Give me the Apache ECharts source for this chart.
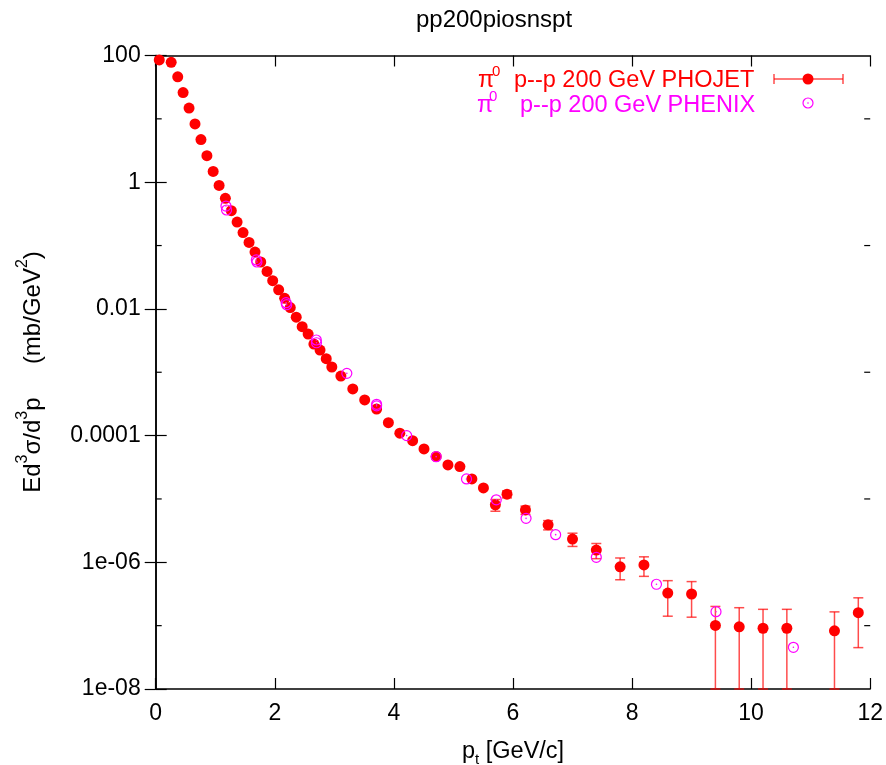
<!DOCTYPE html>
<html><head><meta charset="utf-8">
<script src="https://cdn.jsdelivr.net/npm/echarts@6/dist/echarts.min.js"></script>
<style>html,body{margin:0;padding:0;background:#fff}#c{width:886px;height:765px}</style>
</head><body><div id="c"></div>
<script>
// ---- data ----
const phojetPt = [0.06,0.26,0.37,0.46,0.56,0.66,0.76,0.86,0.965,1.065,
  1.17,1.27,1.367,1.467,1.568,1.668,1.764,1.87,1.965,2.065,
  2.166,2.26,2.36,2.46,2.56,2.657,2.76,2.864,2.958,3.11,
  3.31,3.51,3.71,3.908,4.10,4.315,4.506,4.71,4.908,5.109,
  5.31,5.504,5.705,5.90,6.21,6.59,7.0,7.4,7.8,8.2,
  8.6,9.0,9.4,9.8,10.2,10.6,11.4,11.8];
const phojetVal = [85,78,46,26,14.8,8.3,4.7,2.62,1.48,0.89,
  0.557,0.355,0.235,0.160,0.112,0.079,0.055,0.039,0.0279,0.020,
  0.0147,0.0105,0.0074,0.00525,0.0040,0.00279,0.00224,0.00164,0.00121,0.00087,
  0.000545,0.000365,0.000263,0.000160,0.000109,8.3e-5,6.15e-5,4.68e-5,3.44e-5,3.24e-5,
  2.07e-5,1.49e-5,8.1e-6,1.19e-5,6.7e-6,3.9e-6,2.33e-6,1.56e-6,8.5e-7,9.1e-7,
  3.27e-7,3.16e-7,1.01e-7,9.6e-8,9.1e-8,9.1e-8,8.3e-8,1.6e-7];
const phojetErr = [0,0,0,0,0,0,0,0,0,0,
  0,0,0,0,0,0,0,0,0,0,
  0,0,0,0,0,0,0,0,0,0,
  0,0,0,0,0,0,0,0,0,0,
  0,0,1.7e-6,1.5e-6,1.0e-6,6.5e-7,5.5e-7,4.2e-7,3.2e-7,3.1e-7,
  1.86e-7,1.8e-7,1.0e-7,9.6e-8,9.0e-8,9.0e-8,8.2e-8,1.15e-7];
const phenixPt = [1.18,1.19,1.69,1.70,2.19,2.20,2.697,2.70,3.21,3.71,3.71,4.215,4.71,5.22,5.72,6.22,6.717,7.40,8.41,9.41,10.71];
const phenixVal = [0.42,0.364,0.0592,0.055,0.01253,0.01164,0.00323,0.00292,0.00096,0.000312,0.000295,0.0001,4.65e-5,2.07e-5,9.7e-6,4.94e-6,2.73e-6,1.2e-6,4.5e-7,1.66e-7,4.55e-8];
const yTickLabels = {'2':'100','0':'1','-2':'0.01','-4':'0.0001','-6':'1e-06','-8':'1e-08'};
const yMinorTicks = [10, 0.1, 0.001, 1e-5, 1e-7];
const titleText = 'pp200piosnspt';
const legendPhojet = 'p--p 200 GeV PHOJET';
const legendPhenix = 'p--p 200 GeV PHENIX';

// ---- chart ----
const FONT = 'Liberation Sans, Arial, sans-serif';
const RED = '#ff0000', MAG = '#ff00ff', BAR = 'rgba(255,0,0,0.7)';
const chart = echarts.init(document.getElementById('c'), null, {renderer:'canvas'});

const phojetData = phojetPt.map((x,i)=>[x, phojetVal[i], phojetErr[i]]);
const phenixData = phenixPt.map((x,i)=>[x, phenixVal[i]]);

const axisLine = {show:true, lineStyle:{color:'#000', width:1.5}};
function xAx(pos, labels){
  return {type:'value', position:pos, min:0, max:12, interval:2,
    axisLine, splitLine:{show:false},
    axisTick:{show:true, inside:true, length:11, lineStyle:{color:'#000', width:1.2}},
    axisLabel:{show:labels, color:'#000', fontSize:23, fontFamily:FONT, margin:13}};
}
function yAx(pos, labels){
  return {type:'log', logBase:10, position:pos, min:1e-8, max:100, interval:2,
    axisLine, splitLine:{show:false},
    axisTick:{show:true, inside:true, length:11, lineStyle:{color:'#000', width:1.2}},
    axisLabel:{show:labels, color:'#000', fontSize:23, fontFamily:FONT, margin:15,
      formatter:v=>{const e=Math.round(Math.log10(v)); return yTickLabels[String(e)]||'';}}};
}

const option = {
  animation:false,
  backgroundColor:'#fff',
  grid:{left:155.7, right:13.6, top:55.5, bottom:76, containLabel:false},
  xAxis:[xAx('bottom',true), xAx('top',false)],
  yAxis:[yAx('left',true), yAx('right',false)],
  series:[
    // short ticks at odd decades on both y axes
    {type:'custom', xAxisIndex:0, yAxisIndex:0, data:yMinorTicks.map(v=>[0,v]), z:5, silent:true,
      renderItem:(params, api)=>{
        const cs = params.coordSys;
        const p = api.coord([0, api.value(1)]);
        const st = {stroke:'#000', lineWidth:1.2};
        return {type:'group', children:[
          {type:'line', shape:{x1:cs.x, y1:p[1], x2:cs.x+6, y2:p[1]}, style:st},
          {type:'line', shape:{x1:cs.x+cs.width, y1:p[1], x2:cs.x+cs.width-6, y2:p[1]}, style:st}
        ]};
      }},
    {type:'custom', xAxisIndex:0, yAxisIndex:0, data:phojetData, z:2,
      renderItem:(params, api)=>{
        const x=api.value(0), y=api.value(1), e=api.value(2);
        if(!e) return null;
        const hi = y+e, lo = Math.max(y-e, 1e-8);
        const p1 = api.coord([x,hi]), p2 = api.coord([x,lo]);
        const w = 5, st = {stroke:BAR, lineWidth:1.5};
        return {type:'group', children:[
          {type:'line', shape:{x1:p1[0],y1:p1[1],x2:p2[0],y2:p2[1]}, style:st},
          {type:'line', shape:{x1:p1[0]-w,y1:p1[1],x2:p1[0]+w,y2:p1[1]}, style:st},
          {type:'line', shape:{x1:p2[0]-w,y1:p2[1],x2:p2[0]+w,y2:p2[1]}, style:st}
        ]};
      }},
    {type:'scatter', xAxisIndex:0, yAxisIndex:0, data:phojetData.map(d=>[d[0],d[1]]), z:3,
      symbol:'circle', symbolSize:11, itemStyle:{color:RED, opacity:1}, clip:false},
    {type:'custom', xAxisIndex:0, yAxisIndex:0, data:phenixData, z:4,
      renderItem:(params, api)=>{
        const p = api.coord([api.value(0), api.value(1)]);
        return {type:'group', children:[
          {type:'circle', shape:{cx:p[0], cy:p[1], r:5}, style:{fill:'none', stroke:MAG, lineWidth:1.2}},
          {type:'circle', shape:{cx:p[0], cy:p[1], r:0.8}, style:{fill:MAG}}
        ]};
      }}
  ],
  graphic:[
    {type:'text', x:494, y:20, style:{text:titleText, fontSize:24, fontFamily:FONT, fill:'#000', align:'center', verticalAlign:'middle'}},
    // y label
    {type:'text', x:33, y:372, rotation:Math.PI/2,
      style:{text:'{n|Ed}{s|3}{n|σ/d}{s|3}{n|p     (mb/GeV}{s|2}{n|)}', align:'center', verticalAlign:'middle', fill:'#000',
        rich:{n:{fontSize:24, lineHeight:24, fontFamily:FONT, fill:'#000', verticalAlign:'bottom'},
              s:{fontSize:16, lineHeight:16, fontFamily:FONT, fill:'#000', verticalAlign:'bottom', padding:[0,0,14,0]}}}},
    // x label
    {type:'text', x:462, y:751, 
      style:{text:'{n|p}{b|t}{n| [GeV/c]}', align:'left', verticalAlign:'middle', fill:'#000',
        rich:{n:{fontSize:23.5, lineHeight:23.5, fontFamily:FONT, fill:'#000', verticalAlign:'top'},
              b:{fontSize:15, lineHeight:15, fontFamily:FONT, fill:'#000', verticalAlign:'top', padding:[13,0,0,0]}}}},
    // legend row 1
    {type:'text', x:478, y:80.7, style:{text:'π', fontSize:23.5, fontFamily:FONT, fill:RED, verticalAlign:'middle'}},
    {type:'text', x:492, y:72, style:{text:'0', fontSize:15, fontFamily:FONT, fill:RED, verticalAlign:'middle'}},
    {type:'text', x:514, y:80.7, style:{text:legendPhojet, fontSize:23.5, fontFamily:FONT, fill:RED, verticalAlign:'middle'}},
    {type:'line', shape:{x1:774,y1:79,x2:843,y2:79}, style:{stroke:BAR, lineWidth:1.5}},
    {type:'line', shape:{x1:774,y1:74,x2:774,y2:84}, style:{stroke:BAR, lineWidth:1.5}},
    {type:'line', shape:{x1:843,y1:74,x2:843,y2:84}, style:{stroke:BAR, lineWidth:1.5}},
    {type:'circle', shape:{cx:808, cy:79, r:5.5}, style:{fill:RED}},
    // legend row 2
    {type:'text', x:477, y:105.2, style:{text:'π', fontSize:23.5, fontFamily:FONT, fill:MAG, verticalAlign:'middle'}},
    {type:'text', x:489, y:96.5, style:{text:'0', fontSize:15, fontFamily:FONT, fill:MAG, verticalAlign:'middle'}},
    {type:'text', x:520, y:105.7, style:{text:legendPhenix, fontSize:23.5, fontFamily:FONT, fill:MAG, verticalAlign:'middle'}},
    {type:'circle', shape:{cx:808, cy:103, r:5}, style:{fill:'none', stroke:MAG, lineWidth:1.2}},
    {type:'circle', shape:{cx:808, cy:103, r:0.8}, style:{fill:MAG}}
  ]
};
chart.setOption(option);
</script></body></html>
